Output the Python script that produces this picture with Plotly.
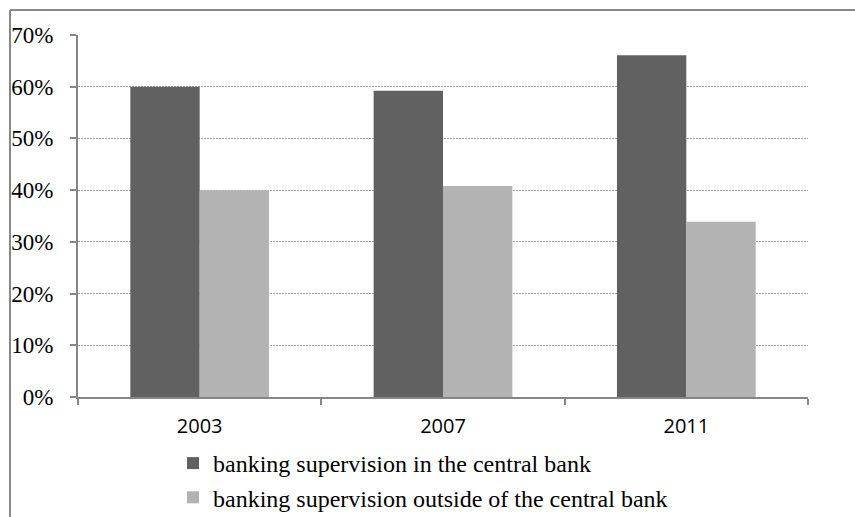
import plotly.graph_objects as go

years = ["2003", "2007", "2011"]
inside_cb = [60.0, 59.2, 66.1]
outside_cb = [40.0, 40.8, 33.9]
series_names = ["banking supervision in the central bank",
                "banking supervision outside of the central bank"]
y_ticks = [0, 10, 20, 30, 40, 50, 60, 70]
y_tick_text = [f"{v}%" for v in y_ticks]

W, H = 855, 517
L, R, T, B = 78, 47, 35, 120
pw, ph = W - L - R, H - T - B

fig = go.Figure()
fig.add_trace(go.Bar(x=years, y=inside_cb, name=series_names[0],
                     marker=dict(color="#616161", line=dict(width=0))))
fig.add_trace(go.Bar(x=years, y=outside_cb, name=series_names[1],
                     marker=dict(color="#b3b3b3", line=dict(width=0))))

axis_col = "#868686"
fig.update_layout(
    width=W, height=H,
    margin=dict(l=L, r=R, t=T, b=B, autoexpand=False),
    paper_bgcolor="white", plot_bgcolor="white",
    barmode="group", bargap=0.43, bargroupgap=0,
    showlegend=True,
    legend=dict(x=(213 - 40 - L) / pw, y=(397 - 441) / ph, xanchor="left", yanchor="top",
                orientation="v", traceorder="normal",
                font=dict(family="Liberation Serif", size=24, color="black"),
                bgcolor="rgba(0,0,0,0)", borderwidth=0),
    xaxis=dict(type="category", range=[-0.5, 2.5], showgrid=False,
               showline=True, linecolor=axis_col, linewidth=2,
               ticks="outside", tickson="boundaries", ticklen=6, tickcolor=axis_col, tickwidth=2,
               tickfont=dict(family="Open Sans", size=20, color="black"),
               ticklabelstandoff=10),
    yaxis=dict(range=[0, 70], tickmode="array", tickvals=y_ticks, ticktext=y_tick_text,
               showgrid=True, gridcolor="#a0a0a0", griddash="2px,1px", gridwidth=1,
               showline=True, linecolor=axis_col, linewidth=2,
               ticks="outside", ticklen=6, tickcolor=axis_col, tickwidth=2,
               tickfont=dict(family="Liberation Serif", size=23, color="black"),
               ticklabelstandoff=12, zeroline=False),
)

# chart frame (left and top border visible; cropped at right and bottom)
x_left = (10 - L) / pw
y_top = 1 + (T - 10) / ph
fig.add_shape(type="line", xref="paper", yref="paper", x0=x_left, x1=x_left,
              y0=-B / ph - 0.01, y1=y_top, line=dict(color="#888888", width=2), layer="above")
fig.add_shape(type="line", xref="paper", yref="paper", x0=x_left, x1=1 + R / pw + 0.01,
              y0=y_top, y1=y_top, line=dict(color="#888888", width=2), layer="above")

fig.write_html("out.html")
